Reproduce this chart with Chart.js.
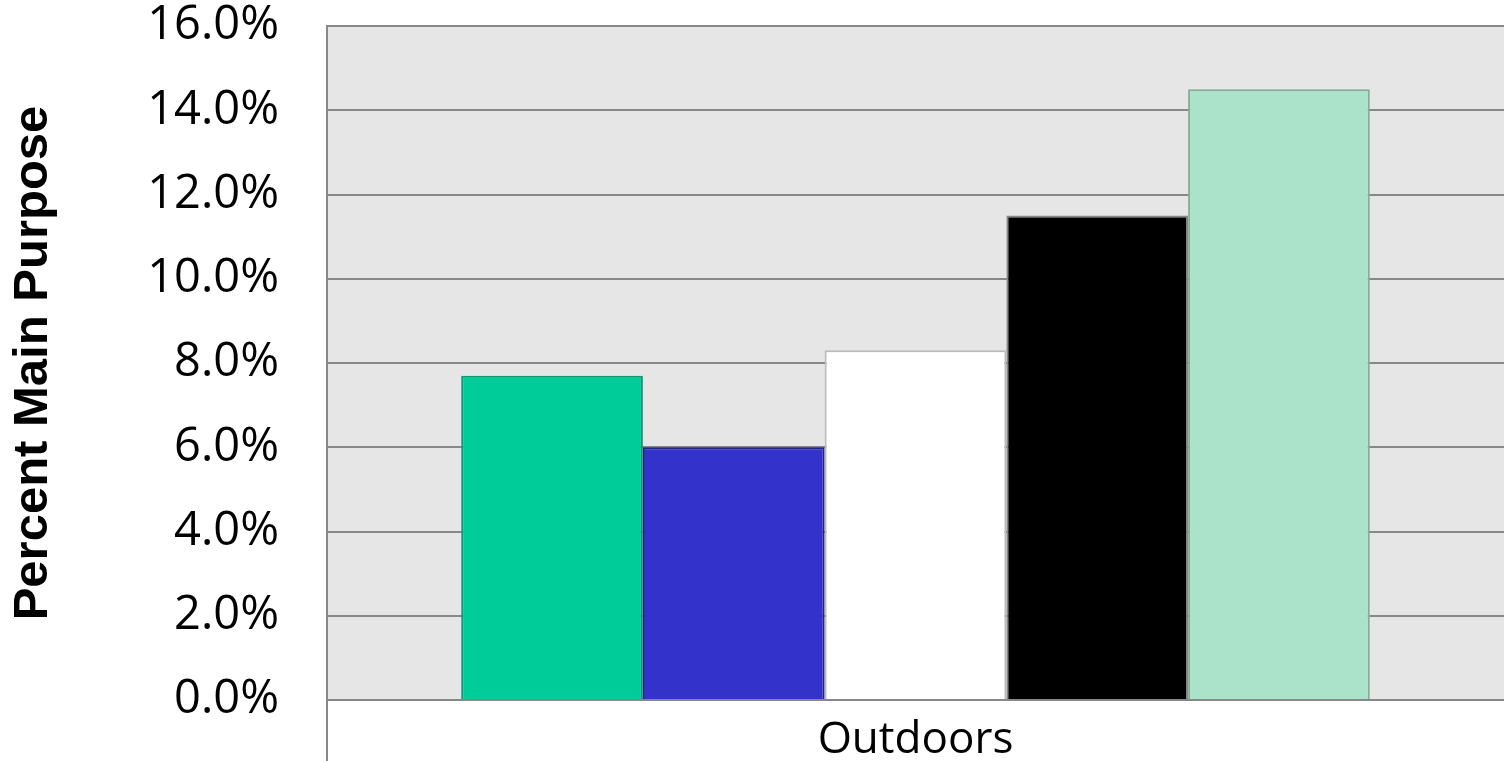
<!DOCTYPE html>
<html>
<head>
<meta charset="utf-8">
<script src="https://cdn.jsdelivr.net/npm/chart.js@4/dist/chart.umd.min.js"></script>
<style>
  html, body { margin: 0; padding: 0; background: #fff; overflow: hidden; }
  #wrap { width: 1504px; height: 761px; }
</style>
</head>
<body>
<div id="wrap"><canvas id="purposeChart"></canvas></div>
<script>
const categories = ["Outdoors"];
const seriesNames = ["Series 1", "Series 2", "Series 3", "Series 4", "Series 5"];
const seriesValues = [[7.7], [6.0], [8.3], [11.5], [14.5]];
const fillColors = ["#00cc99", "#3333cc", "#ffffff", "#000000", "#aae3ca"];
const edgeColors = ["#119977", "#222288", "#bbbbbb", "#888888", "#88aa99"];
const yTicks = [0, 2, 4, 6, 8, 10, 12, 14, 16];

// grey plot background
const plotBg = {
  id: "plotBg",
  beforeDraw(chart) {
    const { ctx, chartArea: a } = chart;
    ctx.save();
    ctx.fillStyle = "#e6e6e6";
    ctx.fillRect(a.left, a.top, a.right - a.left, a.bottom - a.top);
    ctx.restore();
  }
};

new Chart(document.getElementById("purposeChart"), {
  type: "bar",
  data: {
    labels: categories,
    datasets: seriesNames.map((name, i) => ({
      label: name,
      data: seriesValues[i],
      backgroundColor: fillColors[i],
      borderColor: edgeColors[i],
      borderWidth: 2,
      borderSkipped: "bottom"
    }))
  },
  options: {
    responsive: true, maintainAspectRatio: false,
    animation: false,
    datasets: { bar: { categoryPercentage: 0.772, barPercentage: 1 } },
    layout: { padding: 0 },
    plugins: { legend: { display: false }, tooltip: { enabled: false } },
    scales: {
      x: {
        offset: true,
        grid: {
          offset: true, drawOnChartArea: false, lineWidth: 2, tickLength: 61,
          // only the left category boundary is visible in the original
          color: c => c.index === 0 ? "#888888" : "rgba(0,0,0,0)"
        },
        border: { color: "#888888", width: 2 },
        ticks: { color: "#000", padding: -47, font: { family: "'Open Sans'", size: 44 } },
        afterFit: s => { s.height = 61; }
      },
      y: {
        min: 0, max: 16,
        afterBuildTicks: s => { s.ticks = yTicks.map(v => ({ value: v })); },
        grid: { color: "#888888", lineWidth: 2, drawTicks: false },
        border: { color: "#888888", width: 2 },
        ticks: {
          color: "#000", padding: 48,
          font: { family: "'Open Sans'", size: 47 },
          callback: v => v.toFixed(1) + "%"
        },
        title: {
          display: true, text: "Percent Main Purpose", color: "#000",
          padding: { top: 4, bottom: 0 },
          font: { family: "'Liberation Sans'", size: 49, weight: "bold" }
        },
        afterFit: s => { s.width = 327; s.paddingTop = 26; s.paddingBottom = 0; }
      }
    }
  },
  plugins: [plotBg]
});
</script>
</body>
</html>
